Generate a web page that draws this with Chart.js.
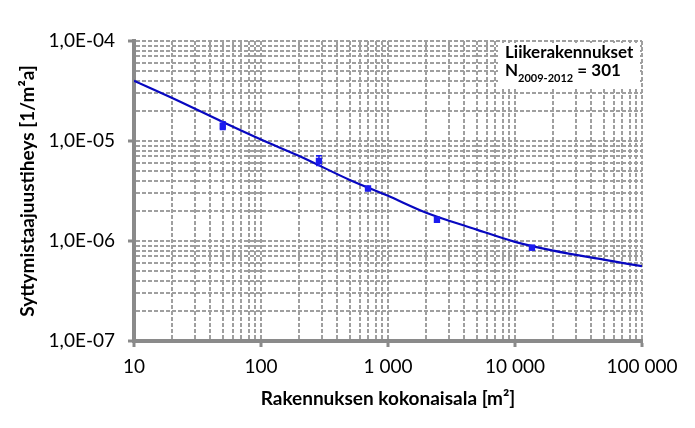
<!DOCTYPE html>
<html>
<head>
<meta charset="utf-8">
<script src="https://cdn.jsdelivr.net/npm/chart.js@4"></script>
<style>
  html, body { margin: 0; padding: 0; background: #fff; }
  #wrap { width: 695px; height: 428px; position: relative; }
</style>
</head>
<body>
<div id="wrap"><canvas id="graph"></canvas></div>
<script>
// sovitettu käyrä (luettu kuvasta)
const xCurve = [10, 20, 50, 100, 200, 500, 1000, 2000, 5000, 10000, 20000, 50000, 100000];
const yCurve = [4.0e-5, 2.69e-5, 1.55e-5, 1.035e-5, 7.08e-6, 4.08e-6, 2.83e-6, 1.92e-6, 1.30e-6, 9.8e-7, 8.0e-7, 6.5e-7, 5.6e-7];

// havainnot + virhepalkit
const xObs = [50, 286, 696, 2430, 13600];
const yObs = [1.41e-5, 6.32e-6, 3.35e-6, 1.63e-6, 8.57e-7];
const yObsLow = [1.30e-5, 5.7e-6, 3.2e-6, 1.55e-6, 8.2e-7];
const yObsHigh = [1.56e-5, 7.1e-6, 3.5e-6, 1.72e-6, 9.0e-7];

// akselit
const xTickValues = [10, 100, 1000, 10000, 100000];
const xTickLabels = ["10", "100", "1 000", "10 000", "100 000"];
const yTickValues = [1e-7, 1e-6, 1e-5, 1e-4];
const yTickLabels = ["1,0E-07", "1,0E-06", "1,0E-05", "1,0E-04"];

const xTitle = "Rakennuksen kokonaisala [m²]";
const yTitle = "Syttymistaajuustiheys [1/m²a]";
const noteTitle = "Liikerakennukset";
const noteN = "N";
const noteSub = "2009-2012";
const noteRest = " = 301";

const gridGray = "#9f9f9f";
const axisGray = "#8a8a8a";
const fontFam = "Lato, 'Open Sans', sans-serif";

// gridiviivat jokaiselle 1..9 kerrannaiselle
let logGrid = (vals) => {
  let out = [];
  for (let i = 0; i < vals.length; i++) {
    out.push(vals[i]);
    if (i < vals.length - 1) {
      for (let m = 2; m <= 9; m++) out.push(vals[i] * m);
    }
  }
  return out;
};
let sameLog = (a, b) => Math.abs(Math.log10(a) - Math.log10(b)) < 1e-6;
let labelFor = (v, vals, labels) => {
  for (let i = 0; i < vals.length; i++) if (sameLog(v, vals[i])) return labels[i];
  return "";
};
let isMajor = (v, vals) => vals.some(t => sameLog(v, t));

const errorBars = {
  id: "errorBars",
  afterDatasetsDraw(chart) {
    const ctx = chart.ctx, xs = chart.scales.x, ys = chart.scales.y;
    ctx.save();
    ctx.strokeStyle = "#1c1cf0";
    ctx.lineWidth = 1.5;
    for (let i = 0; i < xObs.length; i++) {
      const px = xs.getPixelForValue(xObs[i]);
      const lo = ys.getPixelForValue(yObsLow[i]);
      const hi = ys.getPixelForValue(yObsHigh[i]);
      ctx.beginPath();
      ctx.moveTo(px, lo); ctx.lineTo(px, hi);
      ctx.moveTo(px - 3, lo); ctx.lineTo(px + 3, lo);
      ctx.moveTo(px - 3, hi); ctx.lineTo(px + 3, hi);
      ctx.stroke();
    }
    ctx.restore();
  }
};

const note = {
  id: "note",
  beforeDatasetsDraw(chart) {
    const ctx = chart.ctx, a = chart.chartArea;
    ctx.save();
    ctx.fillStyle = "#fff";
    ctx.fillRect(a.right - 144, a.top + 2, 142, 44);
    ctx.fillStyle = "#000";
    ctx.textBaseline = "alphabetic";
    ctx.font = "bold 17px " + fontFam;
    let x0 = a.right - 137;
    ctx.fillText(noteTitle, x0, a.top + 17);
    ctx.fillText(noteN, x0, a.top + 35);
    let w = ctx.measureText(noteN).width;
    ctx.font = "bold 11px " + fontFam;
    ctx.fillText(noteSub, x0 + w, a.top + 41);
    let w2 = ctx.measureText(noteSub).width;
    ctx.font = "bold 17px " + fontFam;
    ctx.fillText(noteRest, x0 + w + w2, a.top + 35);
    ctx.restore();
  }
};

let gerarGrafico = () => {
  const ctx = document.getElementById("graph").getContext("2d");
  const grafico = new Chart(ctx, {
    type: "scatter",
    data: {
      datasets: [
        {
          type: "line",
          data: xCurve.map((x, i) => ({ x: x, y: yCurve[i] })),
          borderColor: "#0808c0",
          borderWidth: 2.2,
          pointRadius: 0,
          cubicInterpolationMode: "monotone",
          fill: false,
          order: 2
        },
        {
          data: xObs.map((x, i) => ({ x: x, y: yObs[i] })),
          backgroundColor: "#1c1cf0",
          borderColor: "#1c1cf0",
          pointStyle: "rect",
          pointRadius: 4.5,
          borderWidth: 0,
          order: 1
        }
      ]
    },
    options: {
      responsive: true,
      maintainAspectRatio: false,
      animation: false,
      devicePixelRatio: 1,
      layout: { padding: { top: 41, right: 53, left: 0, bottom: 0 } },
      plugins: { legend: { display: false }, tooltip: { enabled: false } },
      scales: {
        x: {
          type: "logarithmic",
          min: 10,
          max: 100000,
          afterBuildTicks: (s) => { s.ticks = logGrid(xTickValues).map(v => ({ value: v })); },
          afterFit: (s) => { s.height = 87; },
          grid: {
            color: gridGray,
            lineWidth: 2,
            tickLength: 6,
            tickWidth: 3,
            tickBorderDash: [],
            tickColor: (c) => (c.tick && isMajor(c.tick.value, xTickValues)) ? axisGray : "rgba(0,0,0,0)"
          },
          border: { display: true, color: axisGray, width: 4, dash: [4, 2] },
          ticks: {
            autoSkip: false,
            maxRotation: 0,
            padding: 8,
            color: "#000",
            font: { size: 19, family: fontFam },
            callback: (v) => labelFor(v, xTickValues, xTickLabels)
          },
          title: {
            display: true,
            text: xTitle,
            color: "#000",
            padding: { top: 18, bottom: 18 },
            font: { size: 19, weight: "bold", family: fontFam }
          }
        },
        y: {
          type: "logarithmic",
          min: 1e-7,
          max: 1e-4,
          afterBuildTicks: (s) => { s.ticks = logGrid(yTickValues).map(v => ({ value: v })); },
          afterFit: (s) => { s.width = 134; },
          grid: {
            color: gridGray,
            lineWidth: 2,
            tickLength: 6,
            tickWidth: 3,
            tickBorderDash: [],
            tickColor: (c) => (c.tick && isMajor(c.tick.value, yTickValues)) ? axisGray : "rgba(0,0,0,0)"
          },
          border: { display: true, color: axisGray, width: 4, dash: [4, 2] },
          ticks: {
            autoSkip: false,
            padding: 13,
            color: "#000",
            font: { size: 19, family: fontFam },
            callback: (v) => labelFor(v, yTickValues, yTickLabels)
          },
          title: {
            display: true,
            text: yTitle,
            color: "#000",
            padding: { top: 16, bottom: 0 },
            font: { size: 19, weight: "bold", family: fontFam }
          }
        }
      }
    },
    plugins: [note, errorBars]
  });
};
gerarGrafico();
</script>
</body>
</html>
